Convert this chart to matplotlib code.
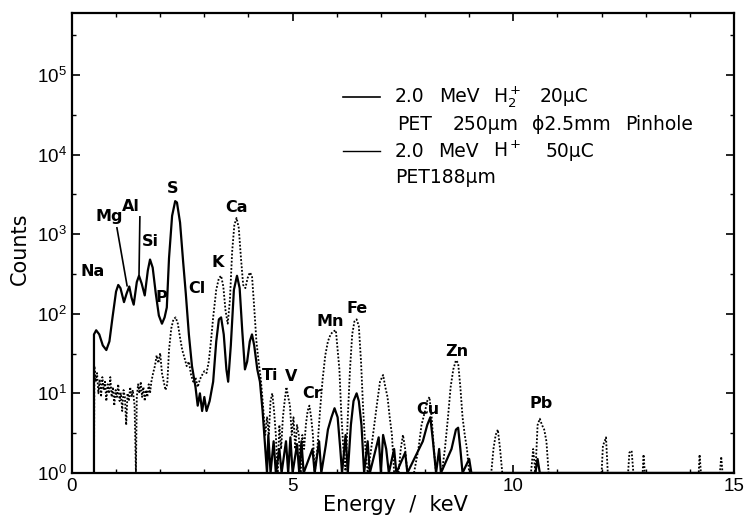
import matplotlib
matplotlib.use("Agg")
import matplotlib.pyplot as plt
import numpy as np
from matplotlib.ticker import FixedLocator, MultipleLocator

plt.rcParams['font.family'] = ['Liberation Sans', 'DejaVu Sans']
plt.rcParams['mathtext.fontset'] = 'custom'
plt.rcParams['mathtext.rm'] = 'DejaVu Sans'
plt.rcParams['mathtext.it'] = 'DejaVu Sans:italic'
plt.rcParams['mathtext.bf'] = 'DejaVu Sans:bold'

# H2+ 20 uC spectrum (solid)
h2_energy = [0.50, 0.50, 0.55, 0.62, 0.70, 0.78, 0.85, 0.92, 1.00, 1.05, 1.10, 1.18,
             1.24, 1.30, 1.35, 1.40, 1.47, 1.52, 1.58, 1.65, 1.72, 1.77, 1.83, 1.90,
             1.97, 2.04, 2.10, 2.15, 2.20, 2.27, 2.34, 2.38, 2.45, 2.52, 2.58, 2.65,
             2.72, 2.80, 2.85, 2.90, 2.95, 3.00, 3.05, 3.12, 3.20, 3.27, 3.33, 3.38,
             3.44, 3.50, 3.54, 3.60, 3.67, 3.74, 3.80, 3.86, 3.92, 3.97, 4.03, 4.08,
             4.13, 4.20, 4.26, 4.32, 4.38, 4.42, 4.45, 4.50, 4.57, 4.62, 4.70, 4.75,
             4.85, 4.90, 4.95, 5.00, 5.10, 5.15, 5.20, 5.25, 5.45, 5.50, 5.60, 5.65,
             5.75, 5.80, 5.88, 5.95, 6.02, 6.08, 6.12, 6.20, 6.25, 6.32, 6.38, 6.45,
             6.50, 6.56, 6.62, 6.70, 6.75, 6.95, 7.00, 7.05, 7.12, 7.18, 7.30, 7.35,
             7.55, 7.60, 7.95, 8.05, 8.12, 8.18, 8.25, 8.32, 8.36, 8.60, 8.70, 8.75,
             8.80, 8.85, 9.00, 9.05, 10.50, 10.55, 10.60, 15.0]
h2_counts = [1, 55, 62, 55, 40, 35, 45, 90, 190, 230, 210, 140,
             180, 220, 160, 130, 250, 300, 240, 170, 350, 480, 380, 180,
             95, 75, 90, 120, 500, 1700, 2600, 2500, 1400, 450, 180, 55,
             22, 12, 7, 10, 6, 9, 6, 8, 14, 45, 85, 90,
             55, 20, 14, 40, 200, 300, 210, 60, 20, 25, 45, 55,
             40, 20, 14, 6, 2, 1, 3, 1, 2.5, 1, 2, 1,
             2.5, 1, 2.8, 1, 2.3, 1, 2.5, 1, 2, 1, 2.5, 1,
             2.2, 3.5, 5, 6.5, 5, 2, 1, 3, 1, 4, 8, 10,
             8, 4, 1, 2.5, 1, 2.8, 1, 3, 2, 1, 2, 1,
             1.8, 1, 2.5, 4, 5, 2.5, 1, 2, 1, 2, 3.5, 3.7,
             2, 1, 1.5, 1, 1, 1.5, 1, 1]

# H+ 50 uC spectrum (dotted)
h_energy = [0.50, 0.51, 0.54, 0.57, 0.60, 0.63, 0.66, 0.69, 0.72, 0.75, 0.78, 0.81,
            0.84, 0.87, 0.90, 0.93, 0.96, 0.99, 1.02, 1.05, 1.08, 1.11, 1.14, 1.17,
            1.20, 1.23, 1.26, 1.29, 1.32, 1.35, 1.38, 1.42, 1.45, 1.47, 1.50, 1.53,
            1.56, 1.59, 1.62, 1.65, 1.68, 1.71, 1.74, 1.77, 1.80, 1.84, 1.88, 1.92,
            1.96, 2.00, 2.04, 2.08, 2.12, 2.16, 2.20, 2.25, 2.30, 2.35, 2.40, 2.45,
            2.50, 2.55, 2.60, 2.65, 2.70, 2.75, 2.80, 2.85, 2.90, 2.95, 3.00, 3.05,
            3.10, 3.15, 3.20, 3.27, 3.33, 3.38, 3.43, 3.48, 3.53, 3.58, 3.63, 3.68,
            3.73, 3.78, 3.83, 3.88, 3.93, 3.98, 4.03, 4.08, 4.13, 4.18, 4.23, 4.28,
            4.33, 4.38, 4.42, 4.46, 4.50, 4.54, 4.58, 4.62, 4.66, 4.70, 4.74, 4.78,
            4.82, 4.86, 4.90, 4.94, 4.98, 5.02, 5.06, 5.10, 5.14, 5.18, 5.22, 5.26,
            5.30, 5.34, 5.38, 5.42, 5.46, 5.50, 5.56, 5.62, 5.68, 5.74, 5.80, 5.86,
            5.92, 5.98, 6.02, 6.06, 6.10, 6.15, 6.20, 6.25, 6.30, 6.35, 6.40, 6.45,
            6.50, 6.55, 6.60, 6.65, 6.70, 6.78, 6.85, 6.92, 6.98, 7.05, 7.10, 7.15,
            7.20, 7.25, 7.30, 7.40, 7.45, 7.50, 7.55, 7.60, 7.75, 7.85, 7.92, 8.00,
            8.05, 8.10, 8.15, 8.20, 8.25, 8.38, 8.45, 8.52, 8.58, 8.64, 8.70, 8.75,
            8.80, 8.85, 8.90, 8.95, 9.00, 9.50, 9.55, 9.60, 9.65, 9.70, 9.75, 10.40,
            10.45, 10.50, 10.55, 10.60, 10.65, 10.70, 10.75, 10.80, 12.00, 12.03, 12.07, 12.10,
            12.14, 12.60, 12.63, 12.68, 12.72, 12.93, 12.95, 12.98, 14.20, 14.22, 14.25, 14.68,
            14.71, 14.74, 15.0]
h_counts = [1, 22, 14, 18, 10, 15, 9, 16, 11, 14, 8, 13,
            10, 16, 9, 12, 7, 11, 9, 13, 8, 10, 6, 11,
            9, 4, 10, 8, 12, 9, 11, 7, 1, 9, 13, 10,
            14, 9, 12, 8, 11, 9, 13, 10, 14, 18, 22, 30,
            24, 32, 18, 14, 11, 13, 35, 65, 85, 90, 75, 50,
            35, 28, 22, 25, 17, 14, 16, 12, 15, 17, 19, 18,
            25, 45, 90, 200, 280, 300, 220, 110, 75, 150, 600, 1300,
            1600, 1200, 500, 230, 210, 280, 330, 300, 120, 45, 25, 15,
            7, 3, 5, 3, 8, 10, 6, 3, 1, 4, 2, 5,
            8, 12, 9, 7, 3, 5, 2, 4, 3, 1, 3, 2,
            4, 6, 7, 5, 3, 1, 2, 6, 15, 30, 45, 55,
            60, 62, 35, 20, 6, 2, 1, 5, 20, 55, 80, 85,
            70, 25, 6, 2, 1, 2, 4, 8, 14, 17, 12, 9,
            5, 3, 1, 1, 2, 3, 2, 1, 1, 2, 4, 6,
            8, 9, 5, 2, 1, 1, 2, 5, 12, 20, 26, 24,
            12, 5, 3, 2, 1, 1, 2, 3, 3.5, 2, 1, 1,
            2, 1, 4, 4.8, 4, 3.5, 2.5, 1, 1, 2.2, 2.5, 2.8,
            1, 1, 1.8, 1.9, 1, 1, 1.7, 1, 1, 1.7, 1, 1,
            1.6, 1, 1]

element_names = ['Na', 'Mg', 'Al', 'Si', 'P', 'S', 'Cl', 'K', 'Ca', 'Ti', 'V', 'Cr',
                 'Mn', 'Fe', 'Cu', 'Zn', 'Pb']
element_x = [0.48, 0.84, 1.34, 1.77, 2.02, 2.29, 2.83, 3.31, 3.74, 4.49, 4.97, 5.44,
             5.85, 6.46, 8.07, 8.73, 10.63]
element_y = [340, 1650, 2250, 800, 160, 3700, 210, 440, 2150, 17, 16.5, 10,
             80, 118, 6.3, 34, 7.5]

# legend text, one entry per word: (row, word)
legend_rows = [5.3e4, 2.4e4, 1.1e4, 5.1e3]
legend_words = [(0, '2.0'), (0, 'MeV'), (0, r'H$_2^+$'), (0, '20μC'),
                (1, 'PET'), (1, '250μm'), (1, 'ϕ2.5mm'), (1, 'Pinhole'),
                (2, '2.0'), (2, 'MeV'), (2, r'H$^+$'), (2, '50μC'),
                (3, 'PET188μm')]
legend_word_x = [7.32, 8.32, 9.54, 10.60,
                 7.36, 8.63, 10.42, 12.53,
                 7.32, 8.30, 9.54, 10.72,
                 7.32]

fig = plt.figure(figsize=(7.49, 5.22), dpi=100)
ax = fig.add_axes([0.096, 0.094, 0.884, 0.881])

ax.plot(h2_energy, h2_counts, color='black', lw=1.6)
ax.plot(h_energy, h_counts, color='black', lw=1.3, linestyle=(0, (1, 1)))

ax.set_yscale('log')
ax.set_xlim(0, 15)
ax.set_ylim(1, 6e5)

for name, x, y in zip(element_names, element_x, element_y):
    ax.text(x, y, name, ha='center', va='center', fontsize=11.5,
            fontweight='bold', family='DejaVu Sans')

# pointer lines for Mg and Al
ax.plot([1.02, 1.25], [1200, 225], color='black', lw=1.2)
ax.plot([1.54, 1.52], [1650, 300], color='black', lw=1.2)

# legend drawn by hand
ax.plot([6.15, 6.98], [legend_rows[0]] * 2, color='black', lw=1.2)
ax.plot([6.15, 6.98], [legend_rows[2]] * 2, color='black', lw=1.0)
for (row, word), x in zip(legend_words, legend_word_x):
    ax.text(x, legend_rows[row], word, fontsize=13.5, va='center', family='DejaVu Sans')

ax.xaxis.set_major_locator(FixedLocator([0, 5, 10, 15]))
ax.xaxis.set_minor_locator(MultipleLocator(1))
ax.yaxis.set_major_locator(FixedLocator([1, 10, 100, 1e3, 1e4, 1e5]))
ax.yaxis.set_minor_locator(FixedLocator([10 ** (k + 0.5) for k in range(6)]))
ax.yaxis.set_minor_formatter(matplotlib.ticker.NullFormatter())
ax.tick_params(which='both', direction='in', top=True, right=True, labelsize=13.5)
ax.tick_params(which='major', length=6, width=1.2)
ax.tick_params(which='minor', length=3, width=1.0)
for s in ax.spines.values():
    s.set_linewidth(1.6)

ax.set_xlabel('Energy  /  keV', fontsize=15, family='DejaVu Sans')
ax.set_ylabel('Counts', fontsize=15, family='DejaVu Sans')
ax.xaxis.set_label_coords(0.488, -0.07)
ax.yaxis.set_label_coords(-0.0785, 0.487)
ax.xaxis.label.set_va('center')
ax.yaxis.label.set_va('center')

fig.savefig('out.png', dpi=100)
